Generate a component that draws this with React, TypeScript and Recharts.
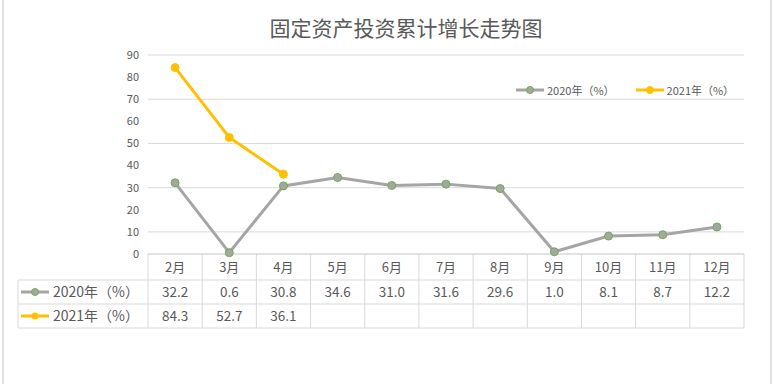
import { CartesianGrid, Legend, Line, LineChart, XAxis, YAxis } from "recharts";

const months = ["2月", "3月", "4月", "5月", "6月", "7月", "8月", "9月", "10月", "11月", "12月"];
const growth2020 = [32.2, 0.6, 30.8, 34.6, 31.0, 31.6, 29.6, 1.0, 8.1, 8.7, 12.2];
const growth2021: (number | null)[] = [84.3, 52.7, 36.1, null, null, null, null, null, null, null, null];
const yTicks = [0, 10, 20, 30, 40, 50, 60, 70, 80, 90];

const data = months.map((m, i) => ({ name: m, a: growth2020[i], b: growth2021[i] }));

const W = 772;
const H = 384;
const PLOT_L = 148;
const PLOT_R = 744;
const PLOT_T = 55;
const AXIS_Y = 254;
const ROW1 = 280;
const ROW2 = 304;
const ROW3 = 328;
const BAND = (PLOT_R - PLOT_L) / months.length;

const FONT = "'Noto Sans CJK SC', 'Noto Sans', sans-serif";
const TEXT = "#595959";
const GRID = "#D9D9D9";
const GREY = "#A5A5A5";
const GREEN = "#70AD47";
const GOLD = "#FFC000";

const fmt = (v: number | null) => (v == null ? "" : v.toFixed(1));

function TableTick(props: any) {
  const { x, payload } = props;
  const i = payload.index;
  const y = AXIS_Y;
  return (
    <g>
      {i === 0 && <line x1={x - BAND / 2} x2={x - BAND / 2} y1={y} y2={ROW3} stroke={GRID} />}
      <line x1={x + BAND / 2} x2={x + BAND / 2} y1={y} y2={ROW3} stroke={GRID} />
      <text x={x} y={y + 18} textAnchor="middle" fontSize={13} fill={TEXT} fontFamily={FONT}>
        {payload.value}
      </text>
      <text x={x} y={ROW1 + 17} textAnchor="middle" fontSize={13.5} fill={TEXT} fontFamily={FONT}>
        {fmt(growth2020[i])}
      </text>
      <text x={x} y={ROW2 + 17} textAnchor="middle" fontSize={13.5} fill={TEXT} fontFamily={FONT}>
        {fmt(growth2021[i])}
      </text>
    </g>
  );
}

function LegendIcon({ color, stroke }: { color: string; stroke: string }) {
  return (
    <svg width={30} height={10} style={{ verticalAlign: "middle" }}>
      <line x1={1} x2={29} y1={5} y2={5} stroke={color} strokeWidth={3} />
      <circle cx={15} cy={5} r={3.5} fill={color} stroke={stroke} strokeWidth={1} />
    </svg>
  );
}

function TopLegend() {
  return (
    <div style={{ display: "flex", gap: 20, fontSize: 11, color: TEXT, fontFamily: FONT }}>
      <span style={{ display: "flex", alignItems: "center", gap: 2 }}>
        <LegendIcon color={GREY} stroke={GREEN} />
        2020年（%）
      </span>
      <span style={{ display: "flex", alignItems: "center", gap: 2 }}>
        <LegendIcon color={GOLD} stroke={GOLD} />
        2021年（%）
      </span>
    </div>
  );
}

export default function App() {
  return (
    <div
      style={{
        position: "absolute",
        left: 0,
        top: 0,
        width: W,
        height: H,
        background: "#fff",
        fontFamily: FONT,
      }}
    >
      <div style={{ position: "absolute", left: 2, top: 0, width: 2, height: H, background: "#E0E0E0" }} />
      <div style={{ position: "absolute", left: 770, top: 0, width: 2, height: H, background: "#E0E0E0" }} />
      <div
        style={{
          position: "absolute",
          top: 12,
          left: 0,
          width: 812,
          textAlign: "center",
          fontSize: 21,
          color: TEXT,
          lineHeight: "30px",
        }}
      >
        固定资产投资累计增长走势图
      </div>
      <LineChart
        width={W}
        height={H}
        data={data}
        margin={{ top: PLOT_T, right: W - PLOT_R, bottom: H - ROW3, left: PLOT_L - 40 }}
        style={{ position: "absolute", left: 0, top: 0 }}
      >
        <CartesianGrid horizontal vertical={false} stroke={GRID} />
        <XAxis
          dataKey="name"
          scale="band"
          height={ROW3 - AXIS_Y}
          axisLine={{ stroke: GRID }}
          tickLine={false}
          interval={0}
          tick={<TableTick />}
        />
        <YAxis
          width={40}
          domain={[0, 90]}
          ticks={yTicks}
          axisLine={false}
          tickLine={false}
          tickMargin={3}
          tick={{ fontSize: 11, fill: TEXT, fontFamily: FONT }}
        />
        <Legend
          verticalAlign="middle"
          align="center"
          content={() => <TopLegend />}
          wrapperStyle={{ position: "absolute", top: 82, left: 515, width: 240 }}
        />
        <Line
          dataKey="a"
          name="2020年（%）"
          stroke={GREY}
          strokeWidth={3}
          dot={{ r: 4, fill: GREY, stroke: GREEN, strokeWidth: 1 }}
          isAnimationActive={false}
        />
        <Line
          dataKey="b"
          name="2021年（%）"
          stroke={GOLD}
          strokeWidth={3}
          dot={{ r: 4, fill: GOLD, stroke: GOLD, strokeWidth: 1 }}
          connectNulls={false}
          isAnimationActive={false}
        />
      </LineChart>
      <svg width={W} height={H} style={{ position: "absolute", left: 0, top: 0, pointerEvents: "none" }}>
        <line x1={18} x2={PLOT_R} y1={ROW1} y2={ROW1} stroke={GRID} />
        <line x1={18} x2={PLOT_R} y1={ROW2} y2={ROW2} stroke={GRID} />
        <line x1={18} x2={PLOT_R} y1={ROW3} y2={ROW3} stroke={GRID} />
        <line x1={18} x2={18} y1={ROW1} y2={ROW3} stroke={GRID} />
        <line x1={21} x2={49} y1={ROW1 + 12} y2={ROW1 + 12} stroke={GREY} strokeWidth={3} />
        <circle cx={35} cy={ROW1 + 12} r={3.5} fill={GREY} stroke={GREEN} strokeWidth={1} />
        <text x={53} y={ROW1 + 17} fontSize={14} fill={TEXT} fontFamily={FONT}>
          2020年（%）
        </text>
        <line x1={21} x2={49} y1={ROW2 + 12} y2={ROW2 + 12} stroke={GOLD} strokeWidth={3} />
        <circle cx={35} cy={ROW2 + 12} r={3.5} fill={GOLD} />
        <text x={53} y={ROW2 + 17} fontSize={14} fill={TEXT} fontFamily={FONT}>
          2021年（%）
        </text>
      </svg>
    </div>
  );
}
